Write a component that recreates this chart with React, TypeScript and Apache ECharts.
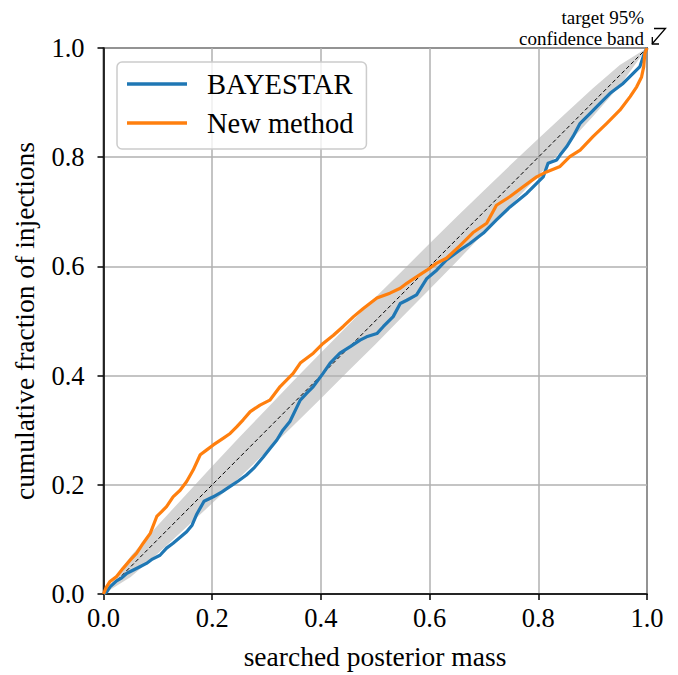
import React, { useEffect, useRef } from "react";
import * as echarts from "echarts";

const FONT = "Liberation Serif";

const seriesNames = ["BAYESTAR", "New method"];
const tickValues = [0, 0.2, 0.4, 0.6, 0.8, 1.0];
const xAxisTitle = "searched posterior mass";
const yAxisTitle = "cumulative fraction of injections";

const bayesX = [0, 0.006, 0.012, 0.024, 0.033, 0.043, 0.055, 0.067, 0.079, 0.09, 0.104, 0.116, 0.128, 0.14, 0.153, 0.163, 0.171, 0.185, 0.202, 0.218, 0.233, 0.248, 0.263, 0.278, 0.294, 0.306, 0.319, 0.33, 0.343, 0.362, 0.374, 0.386, 0.404, 0.417, 0.435, 0.454, 0.472, 0.484, 0.503, 0.515, 0.533, 0.546, 0.558, 0.576, 0.595, 0.613, 0.631, 0.656, 0.674, 0.699, 0.723, 0.748, 0.779, 0.797, 0.809, 0.818, 0.834, 0.84, 0.852, 0.864, 0.877, 0.895, 0.914, 0.932, 0.956, 0.975, 0.987, 0.995, 1];
const bayesY = [0, 0.004, 0.013, 0.024, 0.029, 0.038, 0.044, 0.05, 0.056, 0.064, 0.071, 0.084, 0.093, 0.103, 0.114, 0.126, 0.145, 0.17, 0.178, 0.187, 0.197, 0.207, 0.218, 0.232, 0.251, 0.266, 0.282, 0.3, 0.316, 0.355, 0.368, 0.38, 0.404, 0.423, 0.441, 0.453, 0.465, 0.471, 0.477, 0.49, 0.508, 0.532, 0.538, 0.548, 0.578, 0.593, 0.612, 0.63, 0.642, 0.661, 0.685, 0.709, 0.734, 0.752, 0.764, 0.789, 0.795, 0.804, 0.819, 0.838, 0.862, 0.88, 0.899, 0.917, 0.935, 0.954, 0.966, 0.99, 1];

const newX = [0, 0.005, 0.012, 0.024, 0.036, 0.049, 0.061, 0.073, 0.086, 0.098, 0.107, 0.116, 0.128, 0.141, 0.153, 0.165, 0.178, 0.19, 0.202, 0.22, 0.233, 0.245, 0.257, 0.27, 0.288, 0.306, 0.325, 0.349, 0.362, 0.386, 0.404, 0.423, 0.441, 0.46, 0.478, 0.503, 0.527, 0.546, 0.558, 0.576, 0.595, 0.613, 0.631, 0.656, 0.68, 0.705, 0.723, 0.748, 0.772, 0.797, 0.815, 0.84, 0.858, 0.877, 0.901, 0.926, 0.95, 0.969, 0.981, 0.99, 0.994, 0.996, 1];
const newY = [0, 0.012, 0.023, 0.032, 0.047, 0.062, 0.075, 0.093, 0.111, 0.142, 0.151, 0.16, 0.178, 0.19, 0.206, 0.227, 0.255, 0.264, 0.273, 0.285, 0.294, 0.306, 0.319, 0.334, 0.346, 0.355, 0.38, 0.404, 0.423, 0.441, 0.459, 0.474, 0.49, 0.508, 0.523, 0.542, 0.551, 0.56, 0.569, 0.581, 0.593, 0.606, 0.615, 0.638, 0.662, 0.679, 0.712, 0.728, 0.746, 0.764, 0.773, 0.783, 0.801, 0.813, 0.838, 0.862, 0.886, 0.911, 0.929, 0.947, 0.966, 0.99, 1];

const bandX = [0, 0.05, 0.1, 0.15, 0.2, 0.25, 0.3, 0.35, 0.4, 0.45, 0.5, 0.55, 0.6, 0.65, 0.7, 0.75, 0.8, 0.85, 0.9, 0.95, 1];
const bandHalf = [0, 0.019, 0.026, 0.03, 0.034, 0.037, 0.039, 0.041, 0.042, 0.042, 0.043, 0.042, 0.042, 0.041, 0.039, 0.037, 0.034, 0.03, 0.026, 0.019, 0];

const diagonal = [0, 1];

export default function App() {
  const ref = useRef<HTMLDivElement>(null);
  useEffect(() => {
    if (!ref.current) return;
    const chart = echarts.init(ref.current, undefined, { renderer: "svg" });
    const axisLine = { show: true, lineStyle: { color: "#000", width: 1.5 } };
    const axisTick = { show: true, inside: false, length: 6, lineStyle: { color: "#000", width: 1.5 } };
    const splitLine = { show: true, lineStyle: { color: "#b0b0b0", width: 1.5 } };
    chart.setOption({
      animation: false,
      backgroundColor: "#fff",
      textStyle: { fontFamily: FONT, color: "#000" },
      grid: {
        left: 103.5,
        right: 31,
        top: 48,
        bottom: 81,
        show: true,
        borderColor: "#000",
        borderWidth: 1.5,
        backgroundColor: "transparent",
      },
      xAxis: {
        type: "value",
        min: 0,
        max: 1,
        interval: 0.2,
        axisLine,
        axisTick,
        splitLine,
        axisLabel: {
          fontFamily: FONT,
          fontSize: 26.5,
          color: "#000",
          margin: 10,
          formatter: (v: number) => (tickValues.includes(Math.round(v * 10) / 10) ? v.toFixed(1) : ""),
        },
      },
      yAxis: {
        type: "value",
        min: 0,
        max: 1,
        interval: 0.2,
        axisLine,
        axisTick,
        splitLine,
        axisLabel: {
          fontFamily: FONT,
          fontSize: 26.5,
          color: "#000",
          margin: 19,
          formatter: (v: number) => v.toFixed(1),
        },
      },
      legend: {
        data: seriesNames,
        orient: "vertical",
        left: 117,
        top: 62,
        icon: "rect",
        itemWidth: 60,
        itemHeight: 3.5,
        itemGap: 9,
        padding: [7, 13, 11, 10],
        backgroundColor: "rgba(255,255,255,0.8)",
        borderColor: "#cccccc",
        borderWidth: 1.5,
        borderRadius: 5,
        textStyle: {
          fontFamily: FONT,
          fontSize: 28.5,
          color: "#000",
          lineHeight: 30,
          padding: [0, 0, 0, 15],
        },
      },
      graphic: [
        {
          type: "text",
          x: 375,
          y: 656,
          style: {
            text: xAxisTitle,
            fontFamily: FONT,
            fontSize: 27.5,
            fill: "#000",
            align: "center",
            verticalAlign: "middle",
          },
        },
        {
          type: "text",
          x: 24,
          y: 321,
          rotation: Math.PI / 2,
          style: {
            text: yAxisTitle,
            fontFamily: FONT,
            fontSize: 27.5,
            fill: "#000",
            align: "center",
            verticalAlign: "middle",
          },
        },
        {
          type: "text",
          x: 644,
          y: 17,
          style: {
            text: "target 95%",
            fontFamily: FONT,
            fontSize: 19,
            fill: "#000",
            align: "right",
            verticalAlign: "middle",
          },
        },
        {
          type: "text",
          x: 644,
          y: 38.5,
          style: {
            text: "confidence band",
            fontFamily: FONT,
            fontSize: 19,
            fill: "#000",
            align: "right",
            verticalAlign: "middle",
          },
        },
        {
          type: "polyline",
          shape: { points: [[654, 28.5], [665.5, 28.5], [652, 44]] },
          style: { stroke: "#000", lineWidth: 1.3, fill: null },
        },
        {
          type: "polyline",
          shape: { points: [[652.3, 37], [652.3, 44], [659, 44]] },
          style: { stroke: "#000", lineWidth: 1.3, fill: null },
        },
      ],
      series: [
        {
          type: "custom",
          name: "band",
          z: -1,
          silent: true,
          data: [[0, 0]],
          renderItem: (params: any, api: any) => {
            const upper = bandX.map((x, i) => api.coord([x, x + bandHalf[i]]));
            const lower = bandX.map((x, i) => api.coord([x, x - bandHalf[i]])).reverse();
            return {
              type: "polygon",
              shape: { points: upper.concat(lower) },
              style: { fill: "#d3d3d3" },
            };
          },
        },
        {
          type: "line",
          name: "diagonal",
          data: diagonal.map((v) => [v, v]),
          showSymbol: false,
          silent: true,
          lineStyle: { color: "#000", width: 1, type: [4, 2.5] },
          z: 3,
        },
        {
          type: "line",
          name: seriesNames[0],
          data: bayesX.map((x, i) => [x, bayesY[i]]),
          showSymbol: false,
          color: "#1f77b4",
          lineStyle: { color: "#1f77b4", width: 3.2, join: "round" },
          z: 4,
        },
        {
          type: "line",
          name: seriesNames[1],
          data: newX.map((x, i) => [x, newY[i]]),
          showSymbol: false,
          color: "#ff7f0e",
          lineStyle: { color: "#ff7f0e", width: 3.2, join: "round" },
          z: 5,
        },
      ],
    });
    return () => chart.dispose();
  }, []);
  return <div ref={ref} style={{ width: 678, height: 675, position: "absolute", left: 0, top: 0 }} />;
}
